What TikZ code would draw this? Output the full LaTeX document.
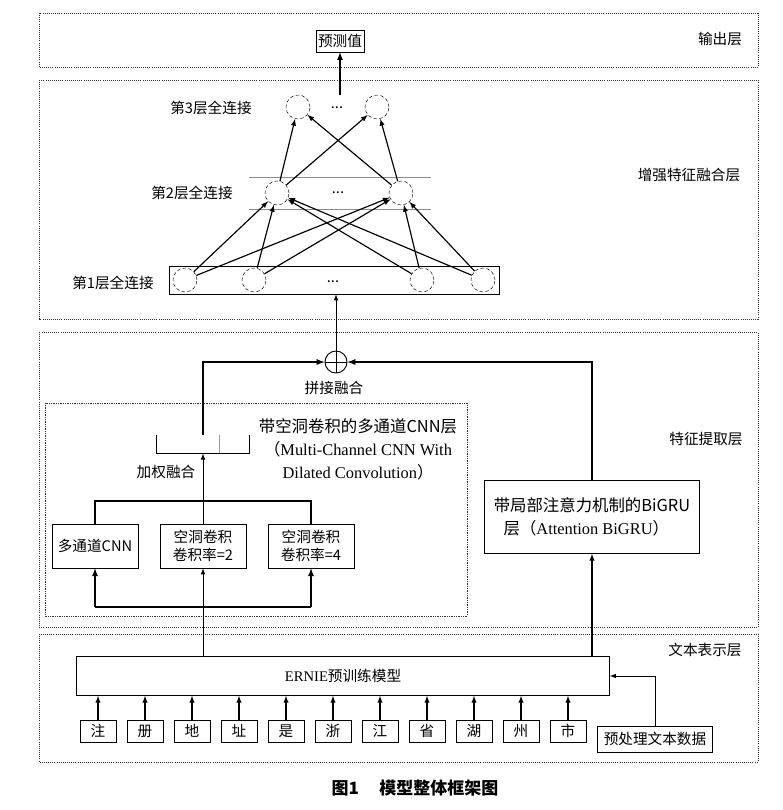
\documentclass[tikz,border=0pt]{standalone}
\usepackage{fontspec}
\setmainfont{Liberation Serif}
\newfontfamily\cjk{Noto Sans CJK SC}
\usetikzlibrary{calc}

\def\zh{\cjk\fontsize{12.5}{16}\selectfont}
\def\zhbig{\cjk\fontsize{14}{19.5}\selectfont}

\begin{document}
\begin{tikzpicture}[x=0.03cm, y=-0.03cm, >=latex, line width=0.8pt]
	\tikzstyle{every node}=[align=center, inner sep=1pt, font=\zh]
	\tikzstyle{layerbox}=[draw, densely dotted, line width=0.8pt, black!80]
	\tikzstyle{neuron}=[circle, draw, densely dashed, line width=0.4pt, minimum size=0.72cm]
	\tikzstyle{plainbox}=[rectangle, draw, line width=0.5pt]
	\useasboundingbox (0,0) rectangle (782,810);

	% layers
	\draw[layerbox] (39,13) rectangle (758,67);
	\draw[layerbox] (39,80) rectangle (758,319);
	\draw[layerbox] (39,332) rectangle (758,627);
	\draw[layerbox] (39,634) rectangle (758,762);
	\node (outl) at (720,39) {输出层};
	\node (fusel) at (689,175) {增强特征融合层};
	\node (featl) at (706,439) {特征提取层};
	\node (textl) at (705,650) {文本表示层};

	% output
	\node[plainbox, minimum width=1.44cm, minimum height=0.66cm] (pred) at (340,41) {预测值};

	% fully connected layers
	\node[plainbox, minimum width=9.9cm, minimum height=0.84cm] (l1box) at (334,280) {};
	\node[neuron] (fa1) at (185,280) {};
	\node[neuron] (fa2) at (254,280) {};
	\node[neuron] (fa3) at (422,280) {};
	\node[neuron] (fa4) at (483,280) {};
	\node (fadots) at (333,282) {...};
	\node (fal) at (113,283) {第1层全连接};

	\draw[black!45, line width=0.4pt] (249,177) -- (431,177) (249,209) -- (431,209);
	\node[neuron] (fb1) at (277,193) {};
	\node[neuron] (fb2) at (401,193) {};
	\node (fbdots) at (338,193) {...};
	\node (fbl) at (192,193) {第2层全连接};

	\node[neuron] (fc1) at (298,107) {};
	\node[neuron] (fc2) at (377,107) {};
	\node (fcdots) at (337,108) {...};
	\node (fcl) at (211,108) {第3层全连接};

	\foreach \i in {1,...,4}
		\foreach \j in {1,2}
			\draw[->, line width=1pt] (fa\i) -- (fb\j);
	\foreach \i in {1,2}
		\foreach \j in {1,2}
			\draw[->, line width=1pt] (fb\i) -- (fc\j);
	\draw[->, line width=1.2pt] (fc1.north -| pred) -- (pred.south);

	% feature extraction
	\node[circle, draw, minimum size=0.66cm, path picture={
		\draw (path picture bounding box.north) -- (path picture bounding box.south)
			(path picture bounding box.west) -- (path picture bounding box.east);}] (plus) at (336,362) {};
	\node (plusl) at (334,388) {拼接融合};
	\draw[->] (plus.north) -- (plus.north |- l1box.south);

	\draw[layerbox, line width=0.5pt] (45,403) rectangle (467,616);
	\node[font=\zhbig] (cnnl) at (358,449) {带空洞卷积的多通道CNN层\\{{\cjk （}\rmfamily Multi-Channel CNN With}\\{\rmfamily Dilated Convolution{\cjk ）}}};

	\node[minimum width=2.76cm, minimum height=0.54cm] (wsum) at (203,444) {};
	\draw[line width=0.6pt] (wsum.north west) |- (wsum.south east) -- (wsum.north east);
	\draw[black!40, line width=0.4pt] (219,435) -- (219,453);
	\node (wsuml) at (166,472) {加权融合};

	\node[plainbox, minimum width=2.58cm, minimum height=1.32cm] (cnn1) at (95,546) {多通道CNN};
	\node[plainbox, minimum width=2.58cm, minimum height=1.32cm] (cnn2) at (203,546) {空洞卷积\\卷积率=2};
	\node[plainbox, minimum width=2.58cm, minimum height=1.32cm] (cnn3) at (311,546) {空洞卷积\\卷积率=4};

	\coordinate (topbar) at (0,501);
	\coordinate (botbar) at (0,607);
	\draw[line width=1.3pt] (cnn1.north) -- (cnn1.north |- topbar) -- (cnn3.north |- topbar) -- (cnn3.north);
	\draw[->] (cnn2.north) -- (wsum.south);
	\draw[line width=1.3pt] (cnn1.south |- botbar) -- (cnn3.south |- botbar);
	\draw[->, line width=1.3pt] (cnn1.south |- botbar) -- (cnn1.south);
	\draw[->, line width=1.3pt] (cnn3.south |- botbar) -- (cnn3.south);

	\node[plainbox, minimum width=6.45cm, minimum height=2.19cm, font=\zhbig, align=left] (bigru) at (592,517) {带局部注意力机制的BiGRU\\\hspace{0.6em}层{\cjk （}\rmfamily Attention BiGRU{\cjk ）}};

	\draw[->, line width=1.3pt] (wsum.north) |- (plus.west);
	\draw[->, line width=1.3pt] (bigru.north) |- (plus.east);

	% text representation
	\node[plainbox, minimum width=15.99cm, minimum height=1.17cm] (ernie) at (343,676) {\rmfamily ERNIE\cjk 预训练模型};
	\draw[->] (ernie.north -| cnn2) -- (cnn2.south);
	\draw[->, line width=1pt] (ernie.north -| bigru) -- (bigru.south);
	\foreach \ch [count=\i] in {注,册,地,址,是,浙,江,省,湖,州,市} {
		\node[plainbox, minimum width=1.08cm, minimum height=0.66cm] (ch\i) at (51+47*\i,731) {\ch};
		\draw[->, line width=1pt] (ch\i.north) -- (ch\i.north |- ernie.south);
	}
	\node[plainbox, minimum width=3.45cm, minimum height=0.78cm] (prep) at (655,739) {预处理文本数据};
	\draw[->] (prep.north) |- (ernie.east);

	\node[font=\cjk\bfseries\fontsize{14.5}{16}\selectfont] (cap) at (415,788) {图1\hspace{1.2em}模型整体框架图};
\end{tikzpicture}
\end{document}
